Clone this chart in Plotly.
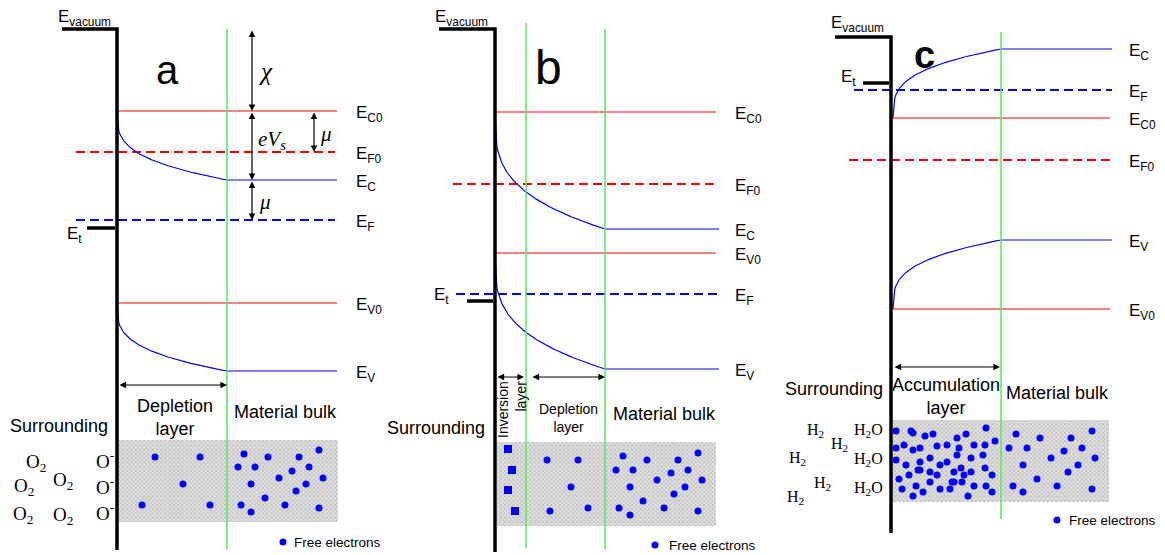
import numpy as np
import plotly.graph_objects as go

SANS = "Liberation Sans, Arial, sans-serif"
SERIF = "Liberation Serif, Times New Roman, serif"
RED = "#ff0000"
BLUE = "#0000ff"
GREEN = "#55ea55"

# ---------------- structure of the three panels (pixel space) ----------------
surface_x = [117, 495, 891]
surface_top = [29, 29, 37]
surface_bottom = [550, 552, 533]
vacuum_x0 = [62, 439, 835]
vacuum_label_xy = [(84, 18), (461, 18), (857, 24)]
trap_x0 = [87, 467, 863]
trap_y = [228, 301, 83]
trap_label_xy = [(74, 235), (441, 296), (848, 78)]
panel_letters = ["a", "b", "<b>c</b>"]
panel_letter_xy = [(167, 70), (548, 67), (924, 55)]
panel_letter_size = [40, 48, 38]

green_x = [227, 526, 605, 1001]
green_y0 = [29, 23, 29, 32]
green_y1 = [550, 548, 550, 519]

# ---------------- energy levels ----------------
level_name = ["E<sub>C0</sub>", "E<sub>F0</sub>", "E<sub>F</sub>", "E<sub>V0</sub>",
              "E<sub>C0</sub>", "E<sub>F0</sub>", "E<sub>V0</sub>", "E<sub>F</sub>",
              "E<sub>F</sub>", "E<sub>C0</sub>", "E<sub>F0</sub>", "E<sub>V0</sub>"]
level_y = [111, 152, 220, 303, 112, 184, 253, 294, 90, 118, 160, 309]
level_x0 = [118, 76, 76, 118, 495, 453, 495, 456, 854, 893, 849, 893]
level_x1 = [337, 335, 335, 337, 716, 715, 716, 718, 1112, 1110, 1110, 1110]
level_color = [RED, RED, BLUE, RED, RED, RED, RED, BLUE, BLUE, RED, RED, RED]
level_dashed = [False, True, True, False, False, True, False, True, True, False, True, False]
level_label_x = [354, 354, 354, 354, 733, 733, 733, 733, 1127, 1127, 1127, 1127]

# ---------------- bent bands (surface value -> bulk value) ----------------
bend_name = ["E<sub>C</sub>", "E<sub>V</sub>", "E<sub>C</sub>", "E<sub>V</sub>",
             "E<sub>C</sub>", "E<sub>V</sub>"]
bend_x0 = [117, 117, 495, 495, 893, 893]
bend_x1 = [227, 227, 605, 605, 1001, 1001]
bend_y_surface = [111, 303, 112, 253, 118, 309]
bend_y_bulk = [180, 371, 229, 369, 49, 240]
bend_flat_end = [337, 337, 719, 719, 1112, 1112]
bend_label_x = [354, 354, 733, 733, 1127, 1127]

# ---------------- hatched material boxes ----------------
box_x0 = [118, 497, 892]
box_x1 = [338, 716, 1109]
box_y0 = [440, 442, 420]
box_y1 = [522, 526, 502]

# ---------------- free electrons ----------------
elec_a_x = [155, 200, 183, 142, 210, 244, 268, 299, 319, 238, 255, 292, 309, 279, 323,
            251, 306, 296, 265, 241, 251, 285, 319]
elec_a_y = [457, 457, 484, 505, 505, 454, 457, 457, 450, 467, 467, 471, 467, 478, 478,
            484, 484, 491, 498, 505, 512, 505, 508]
elec_b_x = [547, 578, 571, 550, 588, 623, 647, 678, 698, 616, 633, 671, 688, 657, 702,
            630, 685, 674, 643, 619, 630, 664, 698]
elec_b_y = [460, 460, 487, 511, 508, 456, 460, 460, 453, 470, 470, 473, 470, 480, 480,
            487, 487, 494, 501, 508, 515, 508, 511]
hole_b_x = [508, 512, 508, 515]
hole_b_y = [449, 470, 490, 511]
elec_c_x = [896, 911, 913, 925, 933, 957, 966, 986, 995,
            896, 904, 913, 920, 937, 947, 959, 974, 985,
            896, 906, 920, 930, 940, 947, 957, 971, 983,
            918, 920, 909, 930, 937, 954, 961, 964, 971, 985, 992,
            899, 930, 952, 954, 962,
            902, 916, 923, 940, 950, 974, 986, 992, 913, 968,
            1016, 1040, 1071, 1092, 1009, 1027, 1064, 1082, 1051, 1095,
            1023, 1078, 1068, 1037, 1013, 1023, 1057, 1092]
elec_c_y = [431, 431, 433, 436, 434, 438, 434, 428, 441,
            448, 445, 450, 448, 446, 445, 448, 445, 445,
            460, 465, 462, 458, 465, 462, 455, 458, 455,
            470, 470, 475, 472, 475, 472, 468, 475, 472, 468, 475,
            479, 482, 482, 482, 482,
            489, 486, 492, 489, 489, 486, 486, 492, 496, 496,
            434, 438, 438, 431, 448, 448, 451, 448, 458, 458,
            465, 465, 472, 479, 486, 492, 486, 489]
legend_dot_xy = [(283, 542), (655, 545), (1057, 520)]
legend_text_xy = [(337, 542), (712, 545), (1112, 520)]

# ---------------- gas molecules ----------------
o2_xy = [(36, 463), (24, 487), (63, 481), (23, 515), (63, 516)]
oion_xy = [(105, 460), (105, 486), (105, 512)]
h2_xy = [(815, 430), (839, 444), (797, 458), (822, 483), (795, 497)]
h2o_xy = [(868, 430), (868, 459), (868, 488)]

# ---------------- region labels ----------------
region_text = ["Surrounding", "Depletion<br>layer", "Material bulk",
               "Surrounding", "Depletion<br>layer", "Material bulk",
               "Surrounding", "Accumulation<br>layer", "Material bulk"]
region_xy = [(59, 426), (175, 417), (285, 412),
             (436, 428), (568, 418), (664, 414),
             (834, 389), (946, 396), (1057, 393)]
region_size = [18, 18, 18, 18, 14, 18, 18, 18, 18]

# ---------------- dimension arrows (x0, y0, x1, y1) ----------------
arrows = [(252, 29, 252, 111), (252, 111, 252, 180), (252, 180, 252, 220),
          (314, 111, 314, 152),
          (118, 385, 227, 385), (496, 377, 524, 377), (531, 377, 605, 377),
          (893, 367, 1000, 367)]
math_text = ["<i>χ</i>", "<i>eV<sub>s</sub></i>", "<i>μ</i>", "<i>μ</i>"]
math_xy = [(266, 71), (272, 140), (326, 134), (265, 202)]
math_size = [25, 21, 21, 21]

fig = go.Figure()


def add_line(xs, ys, color, width, dash=None):
    fig.add_trace(go.Scatter(x=xs, y=ys, mode="lines", hoverinfo="skip",
                             line=dict(color=color, width=width, dash=dash)))


def add_text(x, y, text, size, family=SANS, **kw):
    fig.add_annotation(x=x, y=y, text=text, showarrow=False,
                       font=dict(family=family, size=size, color="black"), **kw)


# hatched boxes
for x0, x1, y0, y1 in zip(box_x0, box_x1, box_y0, box_y1):
    fig.add_trace(go.Scatter(x=[x0, x1, x1, x0, x0], y=[y0, y0, y1, y1, y0],
                             mode="lines", fill="toself", hoverinfo="skip",
                             line=dict(width=0, color="rgba(0,0,0,0)"),
                             fillcolor="#dedede",
                             fillpattern=dict(shape="x", size=3, solidity=0.45,
                                              fgcolor="#8e8e8e", bgcolor="#e2e2e2")))

# flat energy levels
for name, y, x0, x1, c, d, lx in zip(level_name, level_y, level_x0, level_x1,
                                      level_color, level_dashed, level_label_x):
    add_line([x0, x1], [y, y], c, 2 if d else 1.2, "9px,5px" if d else None)
    add_text(lx, y + 3, name, 17, xanchor="left", yanchor="middle")

# bent bands
for name, x0, x1, ys, yb, xe, lx in zip(bend_name, bend_x0, bend_x1, bend_y_surface,
                                        bend_y_bulk, bend_flat_end, bend_label_x):
    t = np.linspace(0, 1, 120)
    xs = list(x0 + (x1 - x0) * t) + [xe]
    ys_ = list(ys + (yb - ys) * t ** 0.3) + [yb]
    add_line(xs, ys_, BLUE, 1.2)
    add_text(lx, yb + 3, name, 17, xanchor="left", yanchor="middle")

# green boundary lines
for gx, gy0, gy1 in zip(green_x, green_y0, green_y1):
    add_line([gx, gx], [gy0, gy1], GREEN, 1.5)

# surface / vacuum / trap lines
for i in range(3):
    add_line([vacuum_x0[i], surface_x[i], surface_x[i]],
             [surface_top[i], surface_top[i], surface_bottom[i]], "black", 3.5)
    add_line([trap_x0[i], surface_x[i] - 2], [trap_y[i], trap_y[i]], "black", 3.5)
    add_text(*vacuum_label_xy[i], "E<sub>vacuum</sub>", 17)
    add_text(*trap_label_xy[i], "E<sub>t</sub>", 17)
    add_text(*panel_letter_xy[i], panel_letters[i], panel_letter_size[i])

# electrons
for ex, ey in ((elec_a_x, elec_a_y), (elec_b_x, elec_b_y), (elec_c_x, elec_c_y)):
    fig.add_trace(go.Scatter(x=ex, y=ey, mode="markers", hoverinfo="skip",
                             marker=dict(color=BLUE, size=7, line=dict(width=0))))
fig.add_trace(go.Scatter(x=hole_b_x, y=hole_b_y, mode="markers", hoverinfo="skip",
                         marker=dict(color=BLUE, size=8, symbol="square",
                                     line=dict(width=0))))
fig.add_trace(go.Scatter(x=[p[0] for p in legend_dot_xy], y=[p[1] for p in legend_dot_xy],
                         mode="markers", hoverinfo="skip",
                         marker=dict(color=BLUE, size=7, line=dict(width=0))))
for (tx, ty) in legend_text_xy:
    add_text(tx, ty, "Free electrons", 13.5)

# molecules
for (x, y) in o2_xy:
    add_text(x, y, "O<sub>2</sub>", 19, SERIF)
for (x, y) in oion_xy:
    add_text(x, y, "O<sup>-</sup>", 19, SERIF)
for (x, y) in h2_xy:
    add_text(x, y, "H<sub>2</sub>", 16, SERIF)
for (x, y) in h2o_xy:
    add_text(x, y, "H<sub>2</sub>O", 16, SERIF)

# region labels
for txt, (x, y), s in zip(region_text, region_xy, region_size):
    add_text(x, y, txt, s)
add_text(512, 410, "Inversion<br>layer", 14, textangle=-90, align="right")

# arrows
for i, (x0, y0, x1, y1) in enumerate(arrows):
    fig.add_annotation(x=x1, y=y1, ax=x0, ay=y0, xref="x", yref="y", axref="x", ayref="y",
                       text="", showarrow=True, arrowhead=2, arrowsize=1.1, arrowwidth=1.2,
                       arrowcolor="black", arrowside="end+start", standoff=0, startstandoff=0)
for txt, (x, y), s in zip(math_text, math_xy, math_size):
    add_text(x, y, txt, s, SERIF)

fig.update_layout(width=1165, height=555, margin=dict(l=0, r=0, t=0, b=0),
                  paper_bgcolor="white", plot_bgcolor="white", showlegend=False,
                  xaxis=dict(range=[0, 1165], visible=False, fixedrange=True),
                  yaxis=dict(range=[555, 0], visible=False, fixedrange=True))
fig.write_html("out.html")
